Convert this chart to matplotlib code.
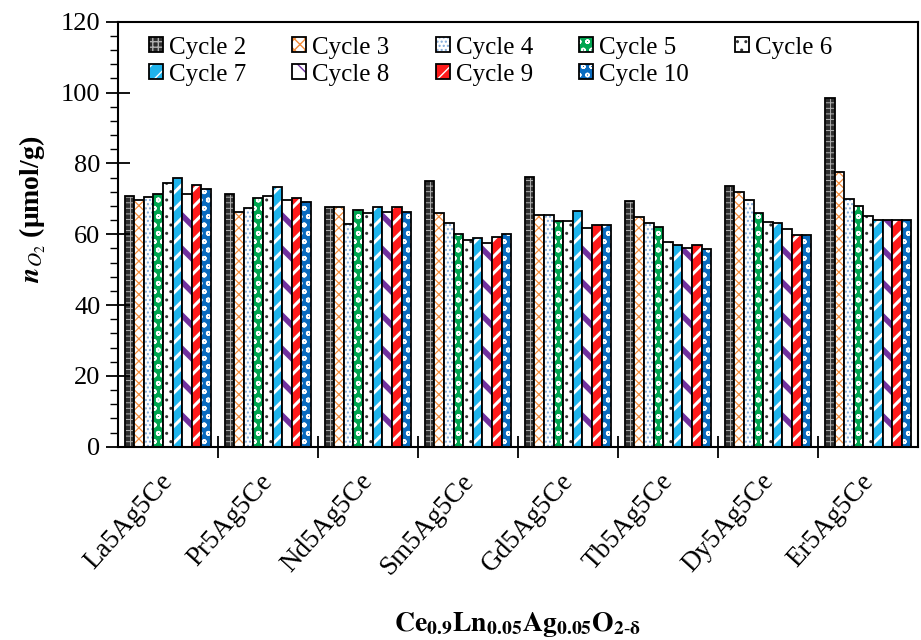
import numpy as np
import matplotlib.pyplot as plt
import matplotlib.transforms as mtransforms
from matplotlib.ticker import MultipleLocator, FixedLocator, NullFormatter
from matplotlib.patches import Patch

plt.rcParams['font.family'] = ['Liberation Serif', 'DejaVu Serif']
plt.rcParams['mathtext.fontset'] = 'stix'

# 样品与循环数据
samples = ['La5Ag5Ce', 'Pr5Ag5Ce', 'Nd5Ag5Ce', 'Sm5Ag5Ce',
           'Gd5Ag5Ce', 'Tb5Ag5Ce', 'Dy5Ag5Ce', 'Er5Ag5Ce']
cycles = ['Cycle 2', 'Cycle 3', 'Cycle 4', 'Cycle 5', 'Cycle 6',
          'Cycle 7', 'Cycle 8', 'Cycle 9', 'Cycle 10']

cycle2 = [70.9, 71.4, 67.6, 74.9, 76.3, 69.4, 73.5, 98.6]
cycle3 = [69.6, 66.4, 67.6, 66.1, 65.3, 64.9, 71.9, 77.7]
cycle4 = [70.4, 67.5, 63.0, 63.2, 65.3, 63.2, 69.6, 69.9]
cycle5 = [71.3, 70.3, 66.9, 60.1, 63.8, 62.1, 66.1, 68.1]
cycle6 = [74.6, 70.7, 66.1, 58.5, 63.8, 57.7, 63.4, 65.2]
cycle7 = [75.9, 73.4, 67.6, 59.0, 66.5, 56.9, 63.2, 64.1]
cycle8 = [71.3, 69.6, 66.4, 57.6, 61.9, 56.2, 61.4, 64.1]
cycle9 = [74.0, 70.1, 67.6, 59.1, 62.6, 56.9, 59.9, 64.1]
cycle10 = [72.8, 69.1, 66.3, 60.1, 62.6, 55.9, 59.9, 63.9]
values = [cycle2, cycle3, cycle4, cycle5, cycle6, cycle7, cycle8, cycle9, cycle10]

# 填充样式: (底色, 花纹颜色, 花纹, 花纹线宽)
styles = [
    ('#2e2e2e', '#b0b0b0', '+++', 0.7),
    ('white', '#F28C3C', 'xxx', 0.9),
    ('white', '#7FA9DA', '....', 1.0),
    ('#00A651', 'white', 'oo', 1.2),
    ('white', '#333333', '..', 1.0),
    ('#1FB4EC', 'white', '//', 2.2),
    ('white', '#7030A0', '\\', 4.0),
    ('#FF1A1A', 'white', '//', 2.2),
    ('#0A6CC0', 'white', 'oo', 1.2),
]

fig, ax = plt.subplots(figsize=(9.21, 6.4), dpi=100)
fig.subplots_adjust(left=0.128, right=0.997, top=0.966, bottom=0.302)

x = np.arange(len(samples))
width = 0.096
offset = 0.067

legend_handles = []
for i, (vals, (fc, hc, hatch, hlw)) in enumerate(zip(values, styles)):
    pos = x + offset + width * (i + 0.5)
    with plt.rc_context({'hatch.linewidth': hlw}):
        bars = ax.bar(pos, vals, width, color=fc, edgecolor=hc, hatch=hatch, linewidth=0)
        h = Patch(facecolor=fc, edgecolor=hc, hatch=hatch, linewidth=0)
    for b in list(bars) + [h]:
        if hasattr(b, 'set_hatch_linewidth'):
            b.set_hatch_linewidth(hlw)
    ax.bar(pos, vals, width, color='none', edgecolor='black', linewidth=1.3)
    legend_handles.append((h, Patch(facecolor='none', edgecolor='black', linewidth=1.3)))

# 图例按行排列
order = [0, 5, 1, 6, 2, 7, 3, 8, 4]
ax.legend([legend_handles[k] for k in order], [cycles[k] for k in order], ncol=5,
          frameon=False, fontsize=18, loc='upper left', bbox_to_anchor=(0.02, 1.0),
          handlelength=0.55, handleheight=0.55, handletextpad=0.25,
          columnspacing=1.85, labelspacing=0.2, borderaxespad=0.2)

ax.set_xlim(0, len(samples))
ax.set_ylim(0, 120)
ax.yaxis.set_major_locator(MultipleLocator(20))
ax.yaxis.set_minor_locator(MultipleLocator(4))
ax.tick_params(axis='y', which='major', direction='inout', length=17, width=1.3,
               labelsize=19, pad=4)
ax.tick_params(axis='y', which='minor', direction='out', length=6, width=1.0)

ax.xaxis.set_major_locator(FixedLocator(np.arange(1, len(samples))))
ax.xaxis.set_major_formatter(NullFormatter())
ax.xaxis.set_minor_locator(FixedLocator(x + 0.5))
ax.set_xticklabels(samples, minor=True, rotation=48, ha='right', rotation_mode='anchor')
ax.tick_params(axis='x', which='major', direction='inout', length=16, width=1.3)
ax.tick_params(axis='x', which='minor', length=0, labelsize=19.5, pad=16)
shift = mtransforms.ScaledTranslation(-6 / 72, 0, fig.dpi_scale_trans)
for lab in ax.get_xticklabels(minor=True):
    lab.set_transform(lab.get_transform() + shift)

for s in ax.spines.values():
    s.set_linewidth(1.5)

ax.set_ylabel(r'$\mathbfit{n}_{O_2}$ (μmol/g)', fontsize=20, fontweight='bold')
ax.yaxis.set_label_coords(-0.0875, 0.558)
ax.set_xlabel(r'$\mathbf{Ce_{0.9}Ln_{0.05}Ag_{0.05}O_{2\text{-}\delta}}$', fontsize=20)
ax.xaxis.set_label_coords(0.5, -0.385)

plt.savefig('out.png', dpi=100)
